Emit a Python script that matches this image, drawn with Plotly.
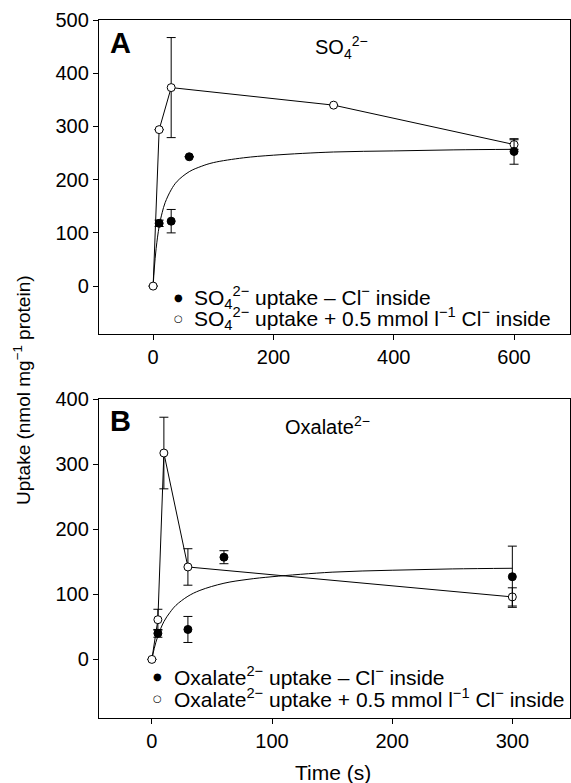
import plotly.graph_objects as go

# ---------------- Data ----------------
# Panel A: SO4 2- uptake
a_filled_t = [10, 30, 60, 600]
a_filled_y = [118, 122, 243, 253]
a_filled_err = [6, 22, 0, 24]

a_open_t = [0, 10, 30, 300, 600]
a_open_y = [0, 294, 373, 340, 266]
a_open_err = [0, 0, 94, 0, 9]

a_fit_t = [0, 2, 5, 10, 15, 20, 30, 40, 60, 80, 100, 150, 200, 300, 400, 500, 600]
a_fit_y = [0, 34, 71, 112, 138, 157, 181, 197, 215, 225, 232, 241, 246, 252, 254, 256, 257]

# Panel B: Oxalate 2- uptake
b_filled_t = [5, 30, 60, 300]
b_filled_y = [40, 46, 157, 127]
b_filled_err = [6, 20, 10, 47]

b_open_t = [0, 5, 10, 30, 300]
b_open_y = [0, 61, 317, 142, 96]
b_open_err = [0, 16, 55, 28, 14]

b_fit_t = [0, 2, 5, 10, 15, 20, 30, 40, 60, 80, 100, 150, 200, 250, 300]
b_fit_y = [0, 17, 36, 58, 72, 83, 97, 106, 117, 123, 127, 134, 137, 139, 140]

a_xticks = [0, 200, 400, 600]
a_yticks = [0, 100, 200, 300, 400, 500]
b_xticks = [0, 100, 200, 300]
b_yticks = [0, 100, 200, 300, 400]

legA = ["SO<sub>4</sub><sup>2−</sup> uptake – Cl<sup>−</sup> inside",
        "SO<sub>4</sub><sup>2−</sup> uptake + 0.5 mmol l<sup>−1</sup> Cl<sup>−</sup> inside"]
legB = ["Oxalate<sup>2−</sup> uptake – Cl<sup>−</sup> inside",
        "Oxalate<sup>2−</sup> uptake + 0.5 mmol l<sup>−1</sup> Cl<sup>−</sup> inside"]

FONT = "Liberation Sans, Arial, sans-serif"
W, H = 571, 783

fig = go.Figure()


def add_panel(xa, ya, fit_t, fit_y, ot, oy, oe, ft, fy, fe):
    fig.add_trace(go.Scatter(x=fit_t, y=fit_y, mode="lines", line=dict(color="black", width=1, shape="spline"),
                             xaxis=xa, yaxis=ya, showlegend=False, hoverinfo="skip"))
    fig.add_trace(go.Scatter(x=ot, y=oy, mode="lines+markers",
                             line=dict(color="black", width=1),
                             marker=dict(symbol="circle", size=8, color="white", line=dict(color="black", width=1)),
                             error_y=dict(type="data", array=oe, color="black", thickness=1, width=4.5),
                             xaxis=xa, yaxis=ya, showlegend=False))
    fig.add_trace(go.Scatter(x=ft, y=fy, mode="markers",
                             marker=dict(symbol="circle", size=8, color="black", line=dict(color="black", width=1)),
                             error_y=dict(type="data", array=fe, color="black", thickness=1, width=4.5),
                             xaxis=xa, yaxis=ya, showlegend=False))


add_panel("x", "y", a_fit_t, a_fit_y, a_open_t, a_open_y, a_open_err, a_filled_t, a_filled_y, a_filled_err)
add_panel("x2", "y2", b_fit_t, b_fit_y, b_open_t, b_open_y, b_open_err, b_filled_t, b_filled_y, b_filled_err)

xdom = [99 / W, 570 / W]
ax_common = dict(showline=True, linecolor="black", linewidth=1.3, mirror=True, ticks="outside",
                 ticklen=5, tickwidth=1, tickcolor="black", showgrid=False, zeroline=False,
                 tickfont=dict(family=FONT, size=20, color="black"), automargin=False)

fig.update_layout(
    width=W, height=H, margin=dict(l=0, r=0, t=0, b=0),
    paper_bgcolor="white", plot_bgcolor="white",
    font=dict(family=FONT, color="black"),
    showlegend=False,
    xaxis=dict(domain=xdom, range=[-90, 693], tickvals=a_xticks, anchor="y", **ax_common),
    yaxis=dict(domain=[1 - 334 / H, 1 - 20 / H], range=[-90, 500], tickvals=a_yticks, anchor="x", **ax_common),
    xaxis2=dict(domain=xdom, range=[-44, 348], tickvals=b_xticks, anchor="y2", **ax_common),
    yaxis2=dict(domain=[1 - 718 / H, 1 - 399 / H], range=[-90, 400], tickvals=b_yticks, anchor="x2", **ax_common),
)


def px_ann(text, x, y, size, xanchor="center", family=FONT, **kw):
    fig.add_annotation(xref="paper", yref="paper", showarrow=False, xanchor=xanchor, yanchor="middle",
                       x=x / W, y=1 - y / H, text=text,
                       font=dict(family=family, color="black", size=size), **kw)


px_ann("<b>A</b>", 120, 43, 29)
px_ann("<b>B</b>", 120, 421, 29)
px_ann("SO<sub>4</sub><sup>2−</sup>", 313, 47, 20, xanchor="left")
px_ann("Oxalate<sup>2−</sup>", 283, 425, 20, xanchor="left")
px_ann("Time (s)", 333, 772, 21)
px_ann("Uptake (nmol mg<sup>−1</sup> protein)", 22, 390, 19, textangle=-90)

# legend keys (symbol + text)
SYM = "DejaVu Sans"
for (labels, mx, tx, ys) in [(legA, 178, 192, (297, 318)), (legB, 157, 172, (676, 698))]:
    px_ann("●", mx, ys[0], 10, family=SYM)
    px_ann("○", mx, ys[1], 10, family=SYM)
    px_ann(labels[0], tx, ys[0], 21, xanchor="left")
    px_ann(labels[1], tx, ys[1], 21, xanchor="left")

fig.write_html("out.html")
